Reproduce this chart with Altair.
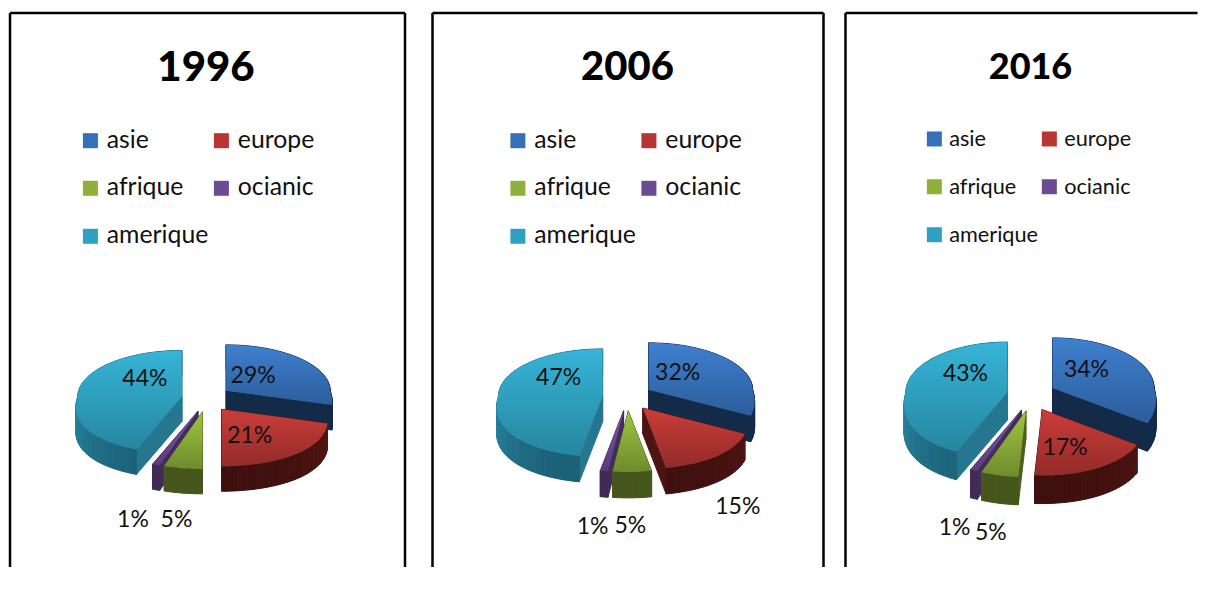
import math
import altair as alt
import pandas as pd

# ---- values ----
YEARS = ["1996", "2006", "2016"]
CONTINENTS = ["asie", "europe", "afrique", "ocianic", "amerique"]
LEGEND_ORDER = ["asie", "afrique", "amerique", "europe", "ocianic"]
V1996 = [29, 21, 5, 1, 44]
V2006 = [32, 15, 5, 1, 47]
V2016 = [34, 17, 5, 1, 43]
VALUES = [V1996, V2006, V2016]

# ---- styles ----
TOP = {"asie": ("#3f80cf", "#2b5d9b"), "europe": ("#cb3d39", "#922b28"),
       "afrique": ("#a0c440", "#6f8b2e"), "ocianic": ("#7d56aa", "#5a3c7c"),
       "amerique": ("#36b4d8", "#26869f")}
LEGEND = {"asie": "#3570b8", "europe": "#b93533", "afrique": "#8fb03a", "ocianic": "#6c4a94", "amerique": "#2ea0c2"}
WALL = {"asie": ("#142b4a", "#142b4a"), "europe": ("#5c1a17", "#3e100e"),
        "afrique": ("#56691f", "#46561c"), "ocianic": ("#4b3264", "#3f2a56"),
        "amerique": ("#2b90ad", "#1b5f75")}
CUT = {"asie": "#132a49", "europe": "#4d1512", "afrique": "#4d5e1f",
       "ocianic": "#422c5a", "amerique": "#25768f"}
DRAW_ORDER = ["asie", "amerique", "europe", "ocianic", "afrique"]

# geometry of each drawing: frame, pie centre, radii, explosion, depth, fonts
PANELS = [
    dict(left=10, width=395, cx=206.4, cy=400.0, rx=104, ry_back=46, ry_front=57, ex=25, ey=13.1, depth=25,
         title_x=206, title_size=42, legend_x=68, legend_size=24.8, col_pad=0, row_pad=22, right_edge=True,
         nudge=dict(asie=(27, -15), europe=(28, 27), afrique=(-26, 108), ocianic=(-65, 109), amerique=(-37, -17))),
    dict(left=432, width=391, cx=627.0, cy=398.3, rx=104, ry_back=47, ry_front=61, ex=25, ey=13.7, depth=26,
         title_x=627, title_size=40, legend_x=73, legend_size=24.8, col_pad=-6, row_pad=22, right_edge=True,
         nudge=dict(asie=(29, -17), europe=(95, 99), afrique=(2, 115), ocianic=(-31, 116), amerique=(-44, -18))),
    dict(left=846, width=352, cx=1031.7, cy=396.6, rx=101.5, ry_back=50, ry_front=66, ex=24.3, ey=15.8, depth=28,
         title_x=1031, title_size=36, legend_x=78, legend_size=21.7, col_pad=-3, row_pad=25, right_edge=False,
         nudge=dict(asie=(34, -18), europe=(23, 38), afrique=(-35, 122), ocianic=(-67, 118), amerique=(-42, -18))),
]
FRAME_TOP, FRAME_BOTTOM = 14, 568
FONT = "Lato"


def rim(p, apex, deg):
    t = math.radians(deg)
    s, c = math.sin(t), math.cos(t)
    if c >= 0:
        return apex[0] + p["rx"] * s, apex[1] - p["ry_back"] * c
    return apex[0] + p["rx"] * s * (1 - 0.2 * c), apex[1] - p["ry_front"] * c


def mix(a, b, f):
    ca = [int(a[i:i + 2], 16) for i in (1, 3, 5)]
    cb = [int(b[i:i + 2], 16) for i in (1, 3, 5)]
    return "#%02x%02x%02x" % tuple(round(x + (y - x) * f) for x, y in zip(ca, cb))


def polygon(rows, pid, pts, colour=None):
    for i, (x, y) in enumerate(list(pts) + [pts[0]]):
        rows.append(dict(id=pid, n=i, x=x, y=y, c=colour))


def slices(values):
    out, start = {}, 0.0
    for name, v in zip(CONTINENTS, values):
        sweep = v * 3.6
        out[name] = (start, start + sweep, v)
        start += sweep
    return out


def panel(p, values, year):
    h = FRAME_BOTTOM - FRAME_TOP
    xs = alt.Scale(domain=[p["left"], p["left"] + p["width"]], zero=False, nice=False)
    ys = alt.Scale(domain=[FRAME_BOTTOM, FRAME_TOP], zero=False, nice=False)
    X = alt.X("x:Q", scale=xs, axis=None)
    Y = alt.Y("y:Q", scale=ys, axis=None)
    layers, labels = [], []
    sl = slices(values)
    for name in DRAW_ORDER:
        a0, a1, v = sl[name]
        mid = math.radians((a0 + a1) / 2)
        apex = (p["cx"] + p["ex"] * math.sin(mid), p["cy"] - p["ey"] * math.cos(mid))
        steps = max(2, int((a1 - a0) / 1.5))
        angles = [a0 + (a1 - a0) * i / steps for i in range(steps + 1)]
        ring = [rim(p, apex, a) for a in angles]
        quads = []
        d = p["depth"]
        for (x0, y0), (x1, y1) in ((apex, ring[0]), (apex, ring[-1])):
            quads.append(((y0 + y1) / 2, [(x0, y0), (x1, y1), (x1, y1 + d), (x0, y0 + d)], CUT[name]))
        for i in range(steps):
            (x0, y0), (x1, y1) = ring[i], ring[i + 1]
            am = math.radians((angles[i] + angles[i + 1]) / 2)
            f = abs(math.cos(am))
            quads.append(((y0 + y1) / 2 + 200, [(x0, y0), (x1, y1), (x1, y1 + d), (x0, y0 + d)],
                          mix(WALL[name][0], WALL[name][1], f)))
        quads.sort(key=lambda q: q[0])
        rows = []
        for j, (_, pts, col) in enumerate(quads):
            polygon(rows, j, pts, col)
        layers.append(
            alt.Chart(pd.DataFrame(rows)).mark_line(filled=True, strokeWidth=1).encode(
                x=X, y=Y, detail="id:N", order="n:Q",
                fill=alt.Fill("c:N", scale=None), stroke=alt.Stroke("c:N", scale=None))
        )
        rows = []
        polygon(rows, 0, [apex] + ring)
        grad = alt.LinearGradient(gradient="linear", x1=0, x2=0, y1=0, y2=1,
                                  stops=[alt.GradientStop(offset=0, color=TOP[name][0]),
                                         alt.GradientStop(offset=1, color=TOP[name][1])])
        layers.append(
            alt.Chart(pd.DataFrame(rows)).mark_line(filled=True, fill=grad, strokeWidth=0).encode(
                x=X, y=Y, detail="id:N", order="n:Q")
        )
        dx, dy = p["nudge"][name]
        labels.append(dict(x=apex[0] + dx, y=apex[1] + dy, t=f"{v}%"))

    legend = alt.Legend(orient="none", legendX=p["legend_x"], legendY=115, columns=2, title=None,
                        symbolType="square", symbolSize=225, symbolStrokeWidth=0, symbolOpacity=1, labelFont=FONT,
                        labelFontSize=p["legend_size"], labelColor="#111111", labelOffset=4, labelLimit=200,
                        rowPadding=p["row_pad"], columnPadding=p["col_pad"], padding=0)
    key = alt.Chart(pd.DataFrame({"k": CONTINENTS, "x": [p["cx"]] * 5, "y": [300] * 5})).mark_square(
        size=0, opacity=1).encode(
        x=X, y=Y,
        color=alt.Color("k:N", scale=alt.Scale(domain=LEGEND_ORDER, range=[LEGEND[k] for k in LEGEND_ORDER]),
                        sort=LEGEND_ORDER, legend=legend))
    text = alt.Chart(pd.DataFrame(labels)).mark_text(font=FONT, fontSize=23, color="#111111").encode(
        x=X, y=Y, text="t:N")
    head = alt.Chart(pd.DataFrame({"x": [p["title_x"]], "y": [69], "t": [year]})).mark_text(
        font=FONT, fontSize=p["title_size"], fontWeight=900, color="#000000").encode(x=X, y=Y, text="t:N")
    edge = dict(color="#000000", strokeWidth=2.5)
    frame = [
        alt.Chart(pd.DataFrame({"a": [0]})).mark_rule(**edge).encode(
            x=alt.value(0), x2=alt.value(p["width"]), y=alt.value(0)),
        alt.Chart(pd.DataFrame({"a": [0]})).mark_rule(**edge).encode(
            x=alt.value(0), y=alt.value(0), y2=alt.value(h)),
    ]
    if p["right_edge"]:
        frame.append(alt.Chart(pd.DataFrame({"a": [0]})).mark_rule(**edge).encode(
            x=alt.value(p["width"]), y=alt.value(0), y2=alt.value(h)))
    return alt.layer(key, *frame, *layers, text, head).properties(width=p["width"], height=h)


charts = [panel(p, v, y) for p, v, y in zip(PANELS, VALUES, YEARS)]
inner = alt.hconcat(charts[0], charts[1], spacing=23.5).resolve_scale(color="independent").resolve_legend(color="independent")
chart = (
    alt.hconcat(inner, charts[2], spacing=18.5)
    .resolve_scale(color="independent").resolve_legend(color="independent")
    .properties(padding={"left": 0, "top": 2.9, "right": 0, "bottom": 0}, background="white")
    .configure_view(stroke=None)
)
chart.save("out.html", embed_options={"renderer": "svg", "actions": False})
